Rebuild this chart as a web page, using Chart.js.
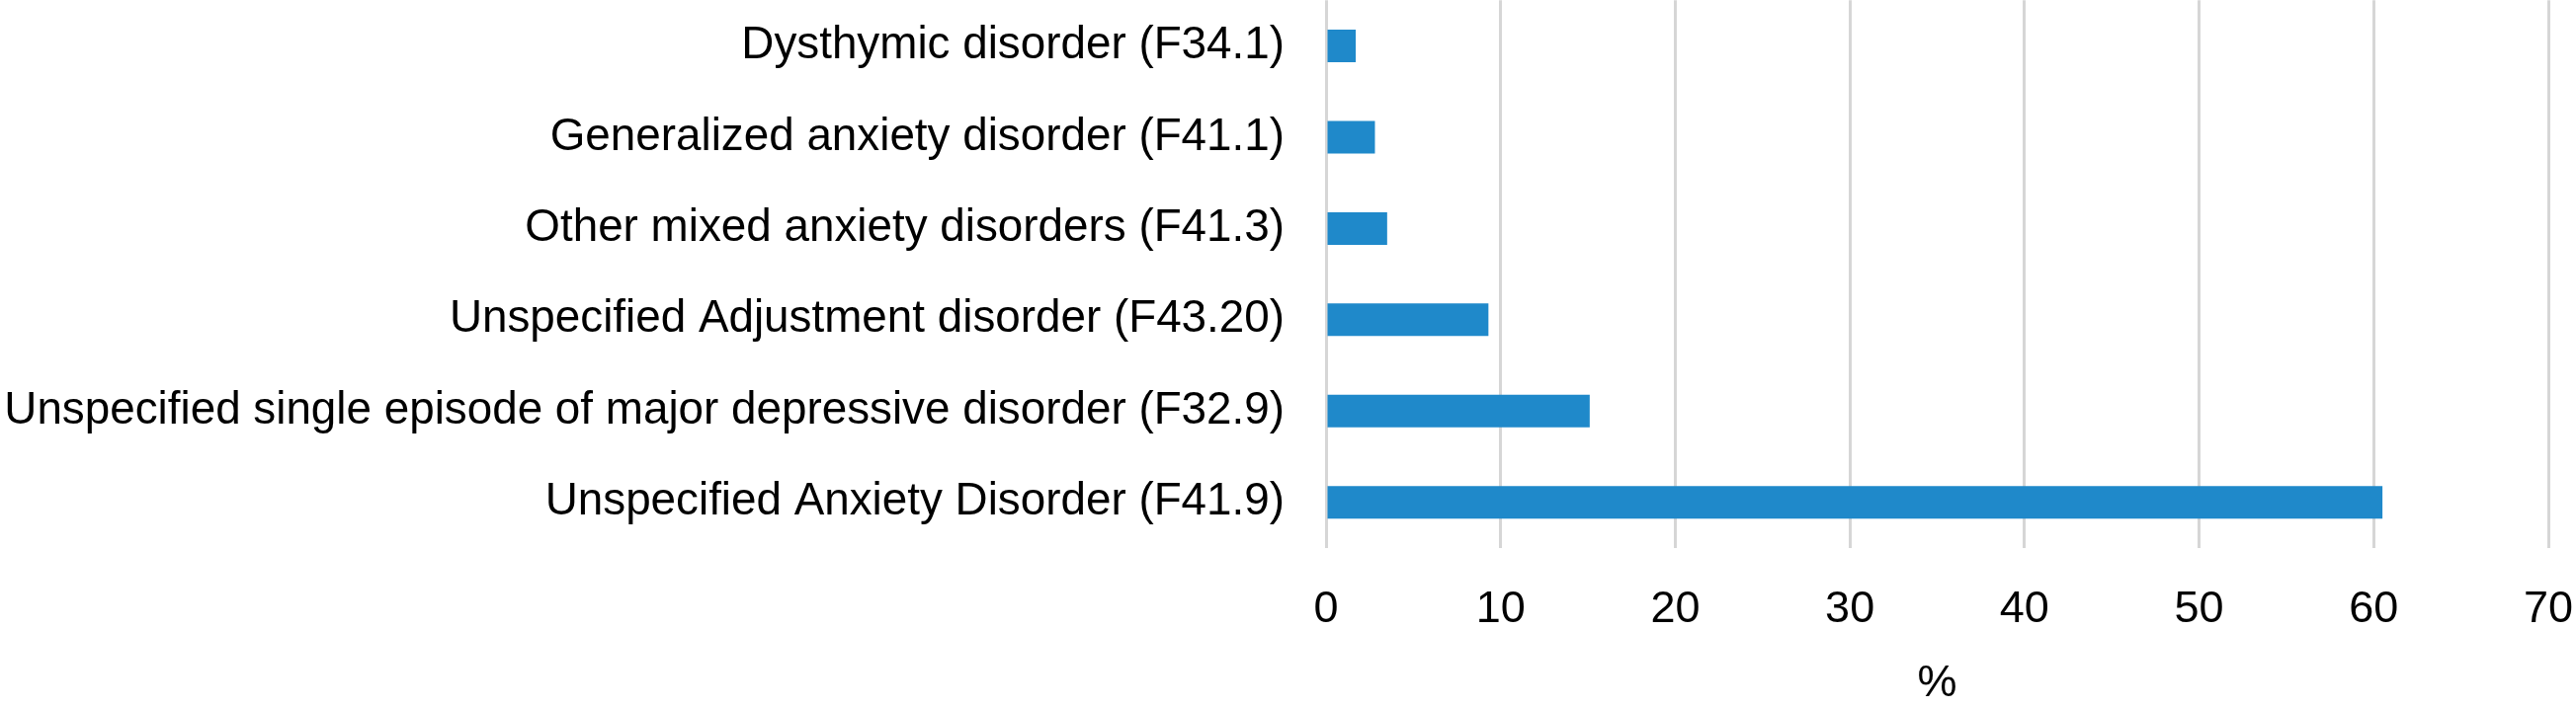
<!DOCTYPE html>
<html>
<head>
<meta charset="utf-8">
<script src="https://cdn.jsdelivr.net/npm/chart.js@4/dist/chart.umd.min.js"></script>
<style>
html,body{margin:0;padding:0;background:#fff;}
#wrap{width:2607px;height:717px;}
</style>
</head>
<body>
<div id="wrap"><canvas id="c" width="2607" height="717"></canvas></div>
<script>
const categories = [
  "Dysthymic disorder (F34.1)",
  "Generalized anxiety disorder (F41.1)",
  "Other mixed anxiety disorders (F41.3)",
  "Unspecified Adjustment disorder (F43.20)",
  "Unspecified single episode of major depressive disorder (F32.9)",
  "Unspecified Anxiety Disorder (F41.9)"
];
const percentValues = [1.7, 2.8, 3.5, 9.3, 15.1, 60.5];
const xTickMin = 0, xTickMax = 70, xTickStep = 10;
const xTitle = "%";

const FONT = "'Liberation Sans', Arial, Helvetica, sans-serif";

new Chart(document.getElementById('c'), {
  type: 'bar',
  data: {
    labels: categories,
    datasets: [{
      data: percentValues,
      backgroundColor: '#1f89ca',
      borderWidth: 0,
      categoryPercentage: 1,
      barPercentage: 0.357
    }]
  },
  options: {
    indexAxis: 'y',
    responsive: false,
    animation: false,
    devicePixelRatio: 1,
    layout: { padding: { left: 0, right: 28, top: 0, bottom: 0 } },
    plugins: { legend: { display: false }, tooltip: { enabled: false } },
    scales: {
      x: {
        min: xTickMin, max: xTickMax,
        border: { display: false },
        grid: { color: '#d6d6d6', lineWidth: 3, drawTicks: true, tickLength: 36, tickColor: 'rgba(0,0,0,0)' },
        ticks: { stepSize: xTickStep, color: '#000', font: { family: FONT, size: 45 }, padding: 0, maxRotation: 0 },
        title: { display: true, text: xTitle, color: '#000', font: { family: FONT, size: 45 }, padding: { top: 0, bottom: -3 } },
        afterFit: (s) => { s.height = 162; }
      },
      y: {
        border: { display: false },
        grid: { display: true, color: 'rgba(0,0,0,0)', drawOnChartArea: false, drawTicks: true, tickLength: 42, tickColor: 'rgba(0,0,0,0)' },
        ticks: { color: '#000', font: { family: FONT, size: 45.8, lineHeight: 0.01 }, padding: 0, autoSkip: false },
        afterFit: (s) => { s.width = 1342; }
      }
    }
  }
});
</script>
</body>
</html>
